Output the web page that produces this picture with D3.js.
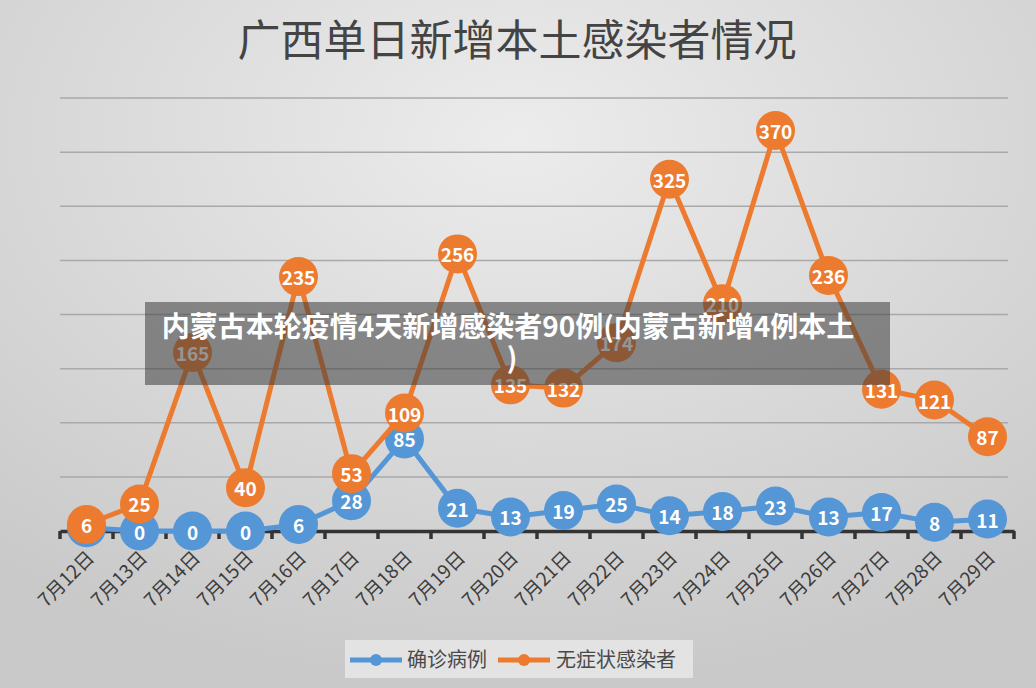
<!DOCTYPE html>
<html>
<head>
<meta charset="utf-8">
<title>广西单日新增本土感染者情况</title>
<script src="https://d3js.org/d3.v7.min.js"></script>
<style>
    body { margin: 0; overflow: hidden; }
    svg { display: block; font-family: "Noto Sans CJK SC", "Noto Sans", sans-serif; }
    .grid line { stroke: #a9a9a9; stroke-width: 1.5; }
    .xlab { font-size: 19px; fill: #3c3c3c; }
    .val { font-size: 19px; font-weight: bold; fill: #fff; text-anchor: middle; dominant-baseline: central; }
    .legend text { font-size: 20px; fill: #4a4a4a; }
</style>
</head>
<body>
<svg width="1036" height="688"></svg>
<script>
    // 日期
    const days = ["7月12日", "7月13日", "7月14日", "7月15日", "7月16日", "7月17日", "7月18日", "7月19日", "7月20日",
        "7月21日", "7月22日", "7月23日", "7月24日", "7月25日", "7月26日", "7月27日", "7月28日", "7月29日"];
    // 确诊病例
    const confirmed = [3, 0, 0, 0, 6, 28, 85, 21, 13, 19, 25, 14, 18, 23, 13, 17, 8, 11];
    // 无症状感染者
    const asymptomatic = [6, 25, 165, 40, 235, 53, 109, 256, 135, 132, 174, 325, 210, 370, 236, 131, 121, 87];
    const gridTicks = [50, 100, 150, 200, 250, 300, 350, 400];

    const svg = d3.select("svg");

    // 背景渐变
    const defs = svg.append("defs");
    const bg = defs.append("radialGradient").attr("id", "bg")
        .attr("cx", "50%").attr("cy", "20%").attr("r", "80%");
    bg.append("stop").attr("offset", "0%").attr("stop-color", "#ececec");
    bg.append("stop").attr("offset", "100%").attr("stop-color", "#c9c9c9");
    svg.append("rect").attr("width", 1036).attr("height", 688).attr("fill", "url(#bg)");

    svg.append("text")
        .attr("x", 517).attr("y", 56)
        .attr("text-anchor", "middle")
        .style("font-size", "43px")
        .style("fill", "#444")
        .text("广西单日新增本土感染者情况");

    const x = d3.scaleBand().domain(days).range([60, 1014]);
    const y = d3.scaleLinear().domain([0, 400]).range([531, 98]);
    const cx = d => x(d) + x.bandwidth() / 2;

    // 网格线
    svg.append("g").attr("class", "grid")
        .selectAll("line").data(gridTicks).enter().append("line")
        .attr("x1", 60).attr("x2", 1008)
        .attr("y1", d => y(d)).attr("y2", d => y(d));

    // x 轴
    const xAxis = svg.append("g")
        .attr("transform", `translate(0,${y(0)})`)
        .call(d3.axisBottom(x).tickSize(0).tickFormat(""));
    xAxis.select(".domain").attr("stroke", "#333").attr("stroke-width", 3.5);
    svg.append("g").selectAll("line")
        .data(d3.range(days.length + 1)).enter().append("line")
        .attr("x1", i => 60 + i * x.step()).attr("x2", i => 60 + i * x.step())
        .attr("y1", y(0)).attr("y2", y(0) + 8)
        .attr("stroke", "#333").attr("stroke-width", 3.5);

    svg.append("g").selectAll("text").data(days).enter().append("text")
        .attr("class", "xlab")
        .attr("text-anchor", "end")
        .attr("transform", d => `translate(${cx(d) + 9},${y(0) + 28}) rotate(-45)`)
        .text(d => d);

    // 折线
    const series = [
        { name: "确诊病例", values: confirmed, color: "#5596d6" },
        { name: "无症状感染者", values: asymptomatic, color: "#ed7b2f" }
    ];
    const line = d3.line().x((v, i) => cx(days[i])).y(v => y(v));

    series.forEach(s => {
        const g = svg.append("g");
        g.append("path")
            .datum(s.values)
            .attr("d", line)
            .attr("fill", "none")
            .attr("stroke", s.color)
            .attr("stroke-width", 5);
        g.selectAll("circle").data(s.values).enter().append("circle")
            .attr("cx", (v, i) => cx(days[i]))
            .attr("cy", v => y(v))
            .attr("r", 19.5)
            .attr("fill", s.color);
        g.selectAll("text").data(s.values).enter().append("text")
            .attr("class", "val")
            .attr("x", (v, i) => cx(days[i]))
            .attr("y", v => y(v))
            .text(v => v);
    });

    // 图例
    const legend = svg.append("g").attr("class", "legend");
    legend.append("rect")
        .attr("x", 345).attr("y", 640).attr("width", 348).attr("height", 38)
        .attr("fill", "#e3e3e3");
    const items = [{ x: 350, tx: 407 }, { x: 498, tx: 556 }];
    series.forEach((s, i) => {
        const it = items[i];
        legend.append("line")
            .attr("x1", it.x).attr("x2", it.x + 52)
            .attr("y1", 660).attr("y2", 660)
            .attr("stroke", s.color).attr("stroke-width", 5);
        legend.append("circle")
            .attr("cx", it.x + 26).attr("cy", 660).attr("r", 6)
            .attr("fill", s.color);
        legend.append("text")
            .attr("x", it.tx).attr("y", 667)
            .text(s.name);
    });

    // 覆盖的标题条
    svg.append("rect")
        .attr("x", 145).attr("y", 302).attr("width", 745).attr("height", 83)
        .attr("fill", "rgba(60,60,60,0.55)");
    const cap = svg.append("text")
        .attr("text-anchor", "middle")
        .style("font-size", "28px")
        .style("font-weight", "bold")
        .style("fill", "#fff");
    cap.append("tspan").attr("x", 508).attr("y", 337).text("内蒙古本轮疫情4天新增感染者90例(内蒙古新增4例本土");
    cap.append("tspan").attr("x", 512).attr("y", 368).text(")");
</script>
</body>
</html>
